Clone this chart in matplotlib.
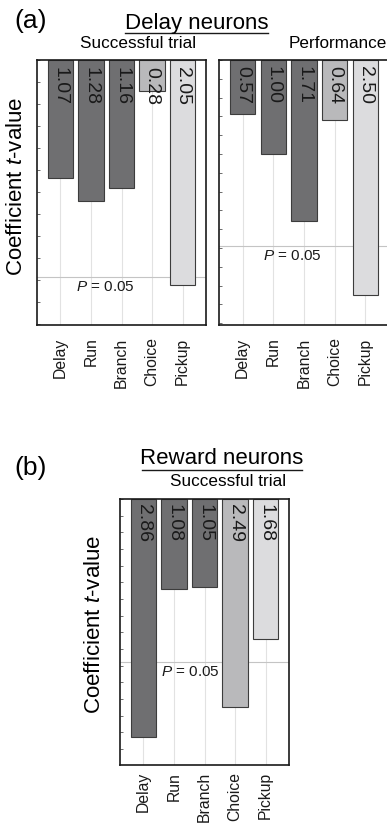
import matplotlib
matplotlib.use("Agg")
import matplotlib.pyplot as plt
from matplotlib.ticker import MultipleLocator

plt.rcParams['font.family'] = ['Liberation Sans', 'DejaVu Sans']
plt.rcParams['mathtext.fontset'] = 'custom'
plt.rcParams['mathtext.rm'] = 'Liberation Sans'
plt.rcParams['mathtext.it'] = 'Liberation Sans:italic'

# data
categories = ["Delay", "Run", "Branch", "Choice", "Pickup"]
delay_success = [1.07, 1.28, 1.16, 0.28, 2.05]
delay_perf = [0.57, 1.00, 1.71, 0.64, 2.50]
reward_success = [2.86, 1.08, 1.05, 2.49, 1.68]
crit_t = [1.97, 1.98, 1.96]  # P = 0.05 lines
y_max = [2.41, 2.82, 3.19]

bar_colors = ["#6f6f71", "#6f6f71", "#6f6f71", "#b9b9bb", "#dcdcde"]

W, H = 387, 825
fig = plt.figure(figsize=(W / 100, H / 100), dpi=100)


def px_axes(x0, y0, x1, y1):
    return fig.add_axes([x0 / W, 1 - y1 / H, (x1 - x0) / W, (y1 - y0) / H])


def draw_panel(ax, values, crit, ymax, p_x, pad):
    xs = range(len(categories))
    for x in xs:
        ax.axvline(x, color="#e2e2e2", lw=0.8, zorder=0)
    ax.axhline(crit, color="#c4c4c4", lw=0.8, zorder=0)
    ax.bar(xs, values, width=0.82, color=bar_colors, edgecolor="#3c3c3c",
           linewidth=0.8, zorder=2)
    for x, v in zip(xs, values):
        ax.text(x, 0.06, "%.2f" % v, rotation=270, ha="center", va="top",
                fontsize=14, color="#1a1a1a", zorder=3)
    ax.text(p_x, crit + 0.03, "$P$ = 0.05", ha="center", va="top",
            fontsize=11, color="#1a1a1a", zorder=3)
    ax.set_xlim(-0.77, 4.77)
    ax.set_ylim(ymax, 0)
    ax.set_xticks(list(xs))
    ax.set_xticklabels(categories, rotation=90, fontsize=11.3, color="#1a1a1a")
    ax.tick_params(axis="x", length=0, pad=pad)
    ax.yaxis.set_major_locator(MultipleLocator(0.2))
    ax.tick_params(axis="y", direction="in", length=2.5, width=0.6,
                   color="#555555", labelleft=False)
    for s in ax.spines.values():
        s.set_linewidth(1.2)
        s.set_color("#1a1a1a")


ax1 = px_axes(37, 60, 206, 325)
draw_panel(ax1, delay_success, crit_t[0], y_max[0], 1.48, 9)
ax2 = px_axes(219, 60, 389, 325)
draw_panel(ax2, delay_perf, crit_t[1], y_max[1], 1.62, 9)
ax3 = px_axes(120, 499, 289, 765)
draw_panel(ax3, reward_success, crit_t[2], y_max[2], 1.55, 5)

# titles and labels
fig.text(31 / W, 1 - 21 / H, "(a)", fontsize=19, ha="center", va="center")
fig.text(197 / W, 1 - 24 / H, "Delay neurons", fontsize=16, ha="center",
         va="center")
fig.add_artist(plt.Line2D([125 / W, 268 / W], [1 - 33 / H, 1 - 33 / H],
                          color="#1a1a1a", lw=1.0))
fig.text(138 / W, 1 - 43 / H, "Successful trial", fontsize=12.3,
         ha="center", va="center")
fig.text(338 / W, 1 - 43 / H, "Performance", fontsize=12.3, ha="center",
         va="center")
fig.text(17 / W, 1 - 186 / H, "Coefficient $t$-value", fontsize=16,
         rotation=90, ha="center", va="center")

fig.text(31 / W, 1 - 468 / H, "(b)", fontsize=19, ha="center", va="center")
fig.text(222 / W, 1 - 459 / H, "Reward neurons", fontsize=16, ha="center",
         va="center")
fig.add_artist(plt.Line2D([142 / W, 302 / W], [1 - 470 / H, 1 - 470 / H],
                          color="#1a1a1a", lw=1.0))
fig.text(228 / W, 1 - 481 / H, "Successful trial", fontsize=12.3,
         ha="center", va="center")
fig.text(95 / W, 1 - 624 / H, "Coefficient $t$-value", fontsize=16,
         rotation=90, ha="center", va="center")

fig.savefig("out.png", dpi=100)
